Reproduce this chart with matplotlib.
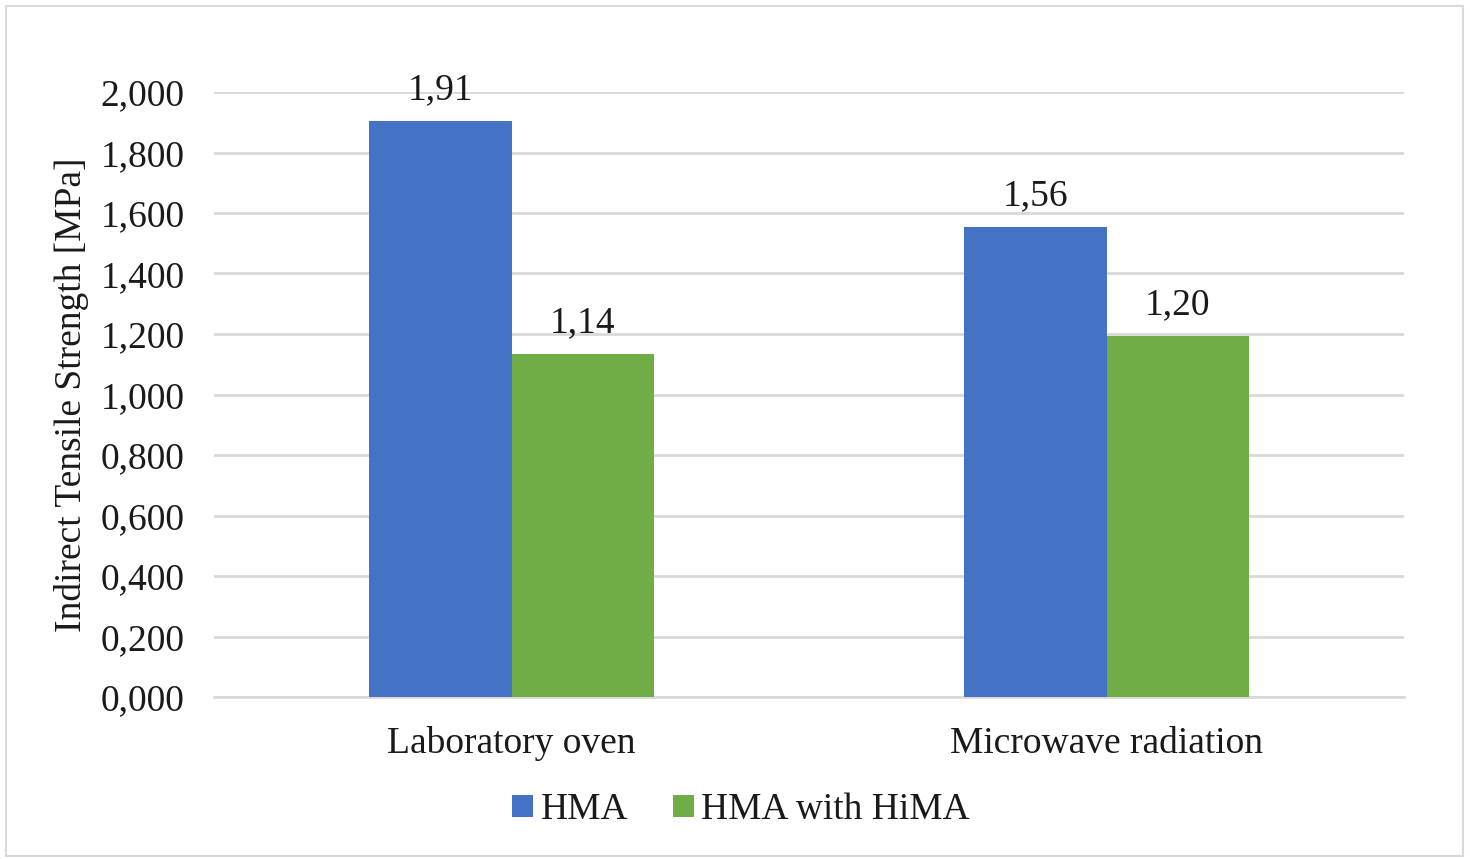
import numpy as np
import matplotlib.pyplot as plt
from matplotlib.patches import Rectangle

# chart data
categories = ["Laboratory oven", "Microwave radiation"]
series_names = ["HMA", "HMA with HiMA"]
hma = [1.905, 1.555]
hma_hima = [1.135, 1.195]
value_labels = [["1,91", "1,56"], ["1,14", "1,20"]]
colors = ["#4472C4", "#70AD47"]

plt.rcParams['font.family'] = ['Liberation Serif', 'DejaVu Serif']
FS = 27

fig = plt.figure(figsize=(14.7, 8.59), dpi=100)
ax = fig.add_axes([214 / 1470, 1 - 697 / 859, 1190 / 1470, 605 / 859])

# light frame around the whole chart
fig.patches.append(Rectangle((6 / 1470, 3 / 859), 1457 / 1470, 850 / 859,
                             transform=fig.transFigure, fill=False,
                             edgecolor="#d9d9d9", linewidth=1.5))

x = np.arange(len(categories))
w = 0.239
series = [hma, hma_hima]
for i, vals in enumerate(series):
    bars = ax.bar(x + (i - 0.5) * w, vals, w, color=colors[i],
                  label=series_names[i], zorder=3)
    for b, lab in zip(bars, value_labels[i]):
        ax.text(b.get_x() + b.get_width() / 2, b.get_height() + 0.045, lab,
                ha="center", va="bottom", fontsize=FS, color="#1a1a1a")

ax.set_xlim(-0.5, 1.5)
ax.set_ylim(0, 2.0)
yt = np.arange(0, 2.001, 0.2)
ax.set_yticks(yt)
ax.set_yticklabels([f"{v:.3f}".replace(".", ",") for v in yt])
ax.set_xticks(x)
ax.set_xticklabels(categories)
ax.tick_params(axis="both", length=0, labelsize=FS, colors="#1a1a1a")
ax.tick_params(axis="y", pad=21)
ax.tick_params(axis="x", pad=21)
ax.grid(axis="y", color="#d9d9d9", linewidth=2, zorder=0)
for s in ["top", "right", "left"]:
    ax.spines[s].set_visible(False)
ax.spines["bottom"].set_color("#d9d9d9")
ax.spines["bottom"].set_linewidth(2)

ax.set_ylabel("Indirect Tensile Strength [MPa]", fontsize=FS, color="#1a1a1a")
ax.yaxis.set_label_coords(-0.105, 0.5)

ax.legend(loc="center", bbox_to_anchor=(0.443, -0.187), ncol=2, frameon=False,
          fontsize=FS, handlelength=0.55, handleheight=0.55, handletextpad=0.2,
          columnspacing=1.2, labelcolor="#1a1a1a")

fig.savefig("out.png", dpi=100, facecolor="white")
